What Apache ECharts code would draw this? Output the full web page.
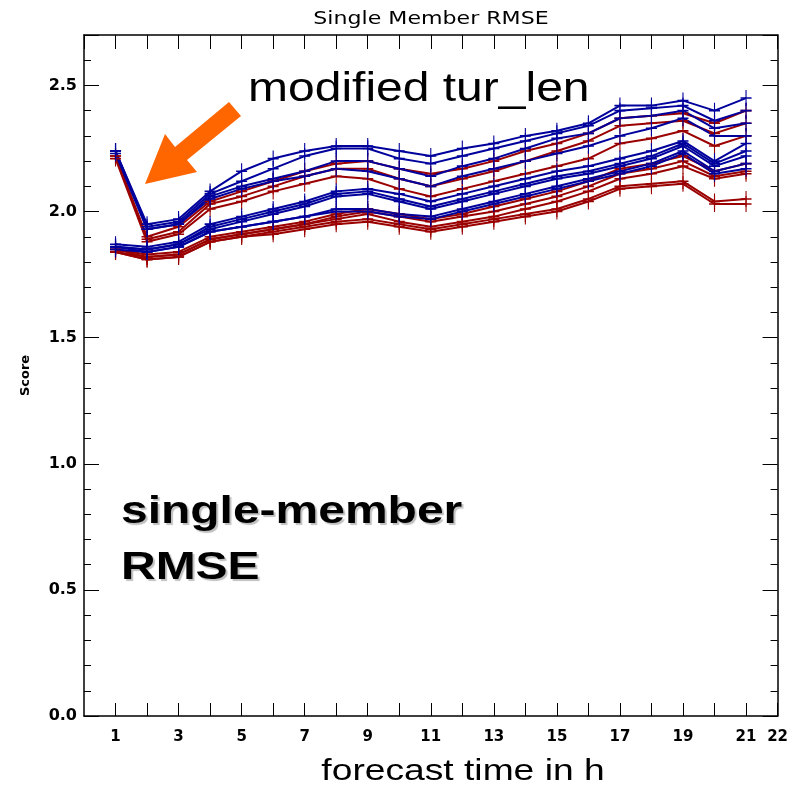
<!DOCTYPE html>
<html>
<head>
<meta charset="utf-8">
<title>Single Member RMSE</title>
<script src="https://cdn.jsdelivr.net/npm/echarts@6/dist/echarts.min.js"></script>
<style>
  html, body { margin: 0; padding: 0; background: #fff; }
  #chart { width: 791px; height: 790px; }
</style>
</head>
<body>
<div id="chart"></div>
<script>
// forecast hours 1..21
const hours = [1, 2, 3, 4, 5, 6, 7, 8, 9, 10, 11, 12, 13, 14, 15, 16, 17, 18, 19, 20, 21]
const xTickLabels = [1, 3, 5, 7, 9, 11, 13, 15, 17, 19, 21, 22]
const yTickLabels = ['0.0', '0.5', '1.0', '1.5', '2.0', '2.5']

// blue members (modified tur_len ones start high at 1h)
const blue1 = [2.24, 1.95, 1.97, 2.08, 2.16, 2.21, 2.24, 2.26, 2.26, 2.24, 2.22, 2.25, 2.27, 2.30, 2.32, 2.35, 2.42, 2.42, 2.44, 2.40, 2.45]
const blue2 = [2.24, 1.94, 1.96, 2.07, 2.12, 2.17, 2.22, 2.25, 2.25, 2.21, 2.19, 2.22, 2.25, 2.28, 2.31, 2.34, 2.40, 2.41, 2.42, 2.36, 2.40]
const blue3 = [2.23, 1.93, 1.95, 2.06, 2.10, 2.13, 2.16, 2.20, 2.20, 2.17, 2.14, 2.18, 2.21, 2.25, 2.29, 2.31, 2.37, 2.38, 2.40, 2.33, 2.35]
const blue4 = [2.24, 1.93, 1.95, 2.05, 2.09, 2.12, 2.14, 2.17, 2.16, 2.13, 2.10, 2.14, 2.17, 2.20, 2.23, 2.26, 2.30, 2.33, 2.37, 2.30, 2.30]
const blue5 = [1.87, 1.86, 1.88, 1.95, 1.98, 2.01, 2.04, 2.08, 2.09, 2.07, 2.04, 2.07, 2.10, 2.13, 2.16, 2.18, 2.21, 2.24, 2.28, 2.20, 2.27]
const blue6 = [1.86, 1.85, 1.87, 1.94, 1.97, 2.00, 2.03, 2.07, 2.08, 2.05, 2.02, 2.05, 2.08, 2.11, 2.14, 2.16, 2.19, 2.22, 2.27, 2.19, 2.24]
const blue7 = [1.86, 1.85, 1.87, 1.93, 1.96, 1.99, 2.02, 2.06, 2.07, 2.04, 2.01, 2.04, 2.07, 2.10, 2.13, 2.15, 2.18, 2.21, 2.26, 2.18, 2.22]
const blue8 = [1.86, 1.84, 1.86, 1.92, 1.94, 1.96, 1.98, 2.01, 2.01, 1.99, 1.98, 2.01, 2.04, 2.07, 2.10, 2.13, 2.16, 2.19, 2.24, 2.16, 2.19]
const blue9 = [1.85, 1.84, 1.86, 1.92, 1.94, 1.96, 1.98, 2.00, 2.00, 1.98, 1.97, 2.00, 2.03, 2.06, 2.09, 2.12, 2.15, 2.18, 2.23, 2.15, 2.17]

// red members
const red1 = [2.22, 1.90, 1.94, 2.04, 2.08, 2.12, 2.16, 2.19, 2.20, 2.17, 2.15, 2.17, 2.20, 2.24, 2.27, 2.31, 2.37, 2.38, 2.39, 2.35, 2.40]
const red2 = [2.22, 1.89, 1.92, 2.03, 2.06, 2.10, 2.14, 2.17, 2.17, 2.13, 2.10, 2.13, 2.16, 2.20, 2.24, 2.28, 2.34, 2.35, 2.36, 2.31, 2.35]
const red3 = [2.21, 1.88, 1.91, 2.01, 2.04, 2.08, 2.11, 2.14, 2.13, 2.09, 2.06, 2.09, 2.12, 2.15, 2.18, 2.21, 2.27, 2.29, 2.32, 2.26, 2.30]
const red4 = [1.85, 1.83, 1.84, 1.90, 1.92, 1.94, 1.96, 1.99, 2.01, 1.99, 1.97, 1.99, 2.02, 2.05, 2.08, 2.12, 2.17, 2.19, 2.22, 2.16, 2.19]
const red5 = [1.85, 1.82, 1.83, 1.89, 1.91, 1.93, 1.95, 1.98, 2.00, 1.98, 1.96, 1.98, 2.00, 2.03, 2.06, 2.10, 2.15, 2.17, 2.20, 2.14, 2.16]
const red6 = [1.84, 1.82, 1.83, 1.89, 1.91, 1.93, 1.95, 1.97, 1.99, 1.96, 1.94, 1.96, 1.98, 2.01, 2.04, 2.08, 2.13, 2.15, 2.18, 2.13, 2.15]
const red7 = [1.84, 1.81, 1.82, 1.88, 1.90, 1.92, 1.94, 1.96, 1.97, 1.95, 1.93, 1.95, 1.97, 1.99, 2.01, 2.05, 2.10, 2.11, 2.12, 2.04, 2.05]
const red8 = [1.84, 1.81, 1.82, 1.88, 1.90, 1.91, 1.93, 1.95, 1.96, 1.94, 1.92, 1.94, 1.96, 1.98, 2.00, 2.04, 2.09, 2.10, 2.11, 2.03, 2.03]

const redSeries = [red1, red2, red3, red4, red5, red6, red7, red8]
const blueSeries = [blue1, blue2, blue3, blue4, blue5, blue6, blue7, blue8, blue9]

const BLUE = '#00009c'
const RED = '#9b0000'
const PLUS = 'path://M9,0h2v9h9v2h-9v9h-2v-9h-9v-2h9z'
const axisFont = 'DejaVu Sans'

const chart = echarts.init(document.getElementById('chart'))

function makeLine (values, color) {
  return {
    type: 'line',
    data: values.map((v, i) => [hours[i], v]),
    symbol: PLUS,
    symbolSize: [11, 16],
    showSymbol: true,
    lineStyle: { color: color, width: 2 },
    itemStyle: { color: color },
    emphasis: { disabled: true },
    silent: true
  }
}

const series = []
redSeries.forEach(s => series.push(makeLine(s, RED)))
blueSeries.forEach(s => series.push(makeLine(s, BLUE)))

// frame axes, ticks point into the plot (negative length)
const frameLine = { show: true, onZero: false, lineStyle: { color: '#000', width: 1.5 } }
const tickStyle = { color: '#000', width: 1 }

const option = {
  animation: false,
  backgroundColor: '#fff',
  grid: { left: 84, right: 13, top: 35, bottom: 74, containLabel: false },
  xAxis: [
    {
      type: 'value',
      min: 0,
      max: 22,
      interval: 1,
      position: 'bottom',
      axisLine: frameLine,
      axisTick: { show: true, inside: false, length: -13, lineStyle: tickStyle },
      splitLine: { show: false },
      axisLabel: {
        margin: 14,
        fontFamily: axisFont,
        fontWeight: 'bold',
        fontSize: 15,
        color: '#000',
        showMinLabel: false,
        showMaxLabel: true,
        formatter: v => xTickLabels.indexOf(v) >= 0 ? String(v) : ''
      }
    },
    {
      type: 'value',
      min: 0,
      max: 22,
      interval: 1,
      position: 'top',
      axisLine: frameLine,
      axisTick: { show: true, inside: false, length: -14, lineStyle: tickStyle },
      splitLine: { show: false },
      axisLabel: { show: false }
    }
  ],
  yAxis: [
    {
      type: 'value',
      min: 0,
      max: 2.7,
      interval: 0.5,
      position: 'left',
      name: 'Score',
      nameLocation: 'middle',
      nameRotate: 90,
      nameGap: 52,
      nameTextStyle: { fontFamily: 'DejaVu Sans', fontSize: 13, fontWeight: 'bold', color: '#000' },
      axisLine: frameLine,
      axisTick: { show: true, inside: false, length: -15, lineStyle: tickStyle },
      minorTick: { show: true, splitNumber: 5, length: -7, lineStyle: tickStyle },
      splitLine: { show: false },
      axisLabel: {
        margin: 7,
        fontFamily: axisFont,
        fontWeight: 'bold',
        fontSize: 16,
        color: '#000',
        showMaxLabel: false,
        formatter: v => yTickLabels[Math.round(v / 0.5)] || ''
      }
    },
    {
      type: 'value',
      min: 0,
      max: 2.7,
      interval: 0.5,
      position: 'right',
      axisLine: frameLine,
      axisTick: { show: true, inside: false, length: -15, lineStyle: tickStyle },
      minorTick: { show: true, splitNumber: 5, length: -7, lineStyle: tickStyle },
      splitLine: { show: false },
      axisLabel: { show: false }
    }
  ],
  series: series,
  graphic: [
    {
      type: 'text',
      x: 431,
      y: 20,
      scaleX: 1.3,
      style: {
        text: 'Single Member RMSE',
        fontFamily: 'DejaVu Sans',
        fontSize: 17,
        fill: '#000',
        textAlign: 'center',
        textVerticalAlign: 'middle'
      }
    },
    {
      type: 'polygon',
      shape: {
        points: [[229, 102], [241, 116], [187, 160], [197, 172], [145, 184], [165, 134], [175, 147]]
      },
      style: { fill: '#ff6600' },
      z: 100
    },
    {
      type: 'text',
      x: 248,
      y: 90,
      scaleX: 1.2,
      style: {
        text: 'modified tur_len',
        fontFamily: 'Liberation Sans',
        fontSize: 40,
        fill: '#000',
        textVerticalAlign: 'middle'
      },
      z: 100
    },
    {
      type: 'text',
      x: 121,
      y: 540,
      scaleX: 1.23,
      style: {
        text: 'single-member\nRMSE',
        fontFamily: 'Liberation Sans',
        fontWeight: 'bold',
        fontSize: 39,
        lineHeight: 56,
        fill: '#000',
        textVerticalAlign: 'middle',
        textShadowColor: 'rgba(0,0,0,0.25)',
        textShadowOffsetX: 2,
        textShadowOffsetY: 2,
        textShadowBlur: 1
      },
      z: 100
    },
    {
      type: 'text',
      x: 463,
      y: 772,
      scaleX: 1.24,
      style: {
        text: 'forecast time in h',
        fontFamily: 'Liberation Sans',
        fontSize: 30,
        fill: '#000',
        textAlign: 'center',
        textVerticalAlign: 'middle'
      },
      z: 100
    }
  ]
}

chart.setOption(option)
</script>
</body>
</html>
